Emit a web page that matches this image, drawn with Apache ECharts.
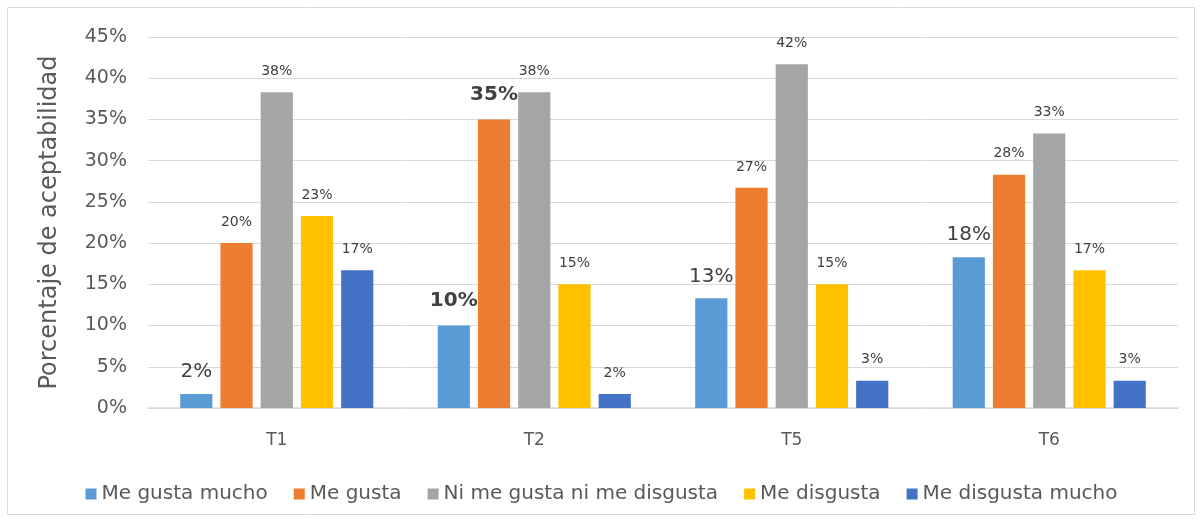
<!DOCTYPE html>
<html><head><meta charset="utf-8">
<script src="https://cdn.jsdelivr.net/npm/echarts@6/dist/echarts.min.js"></script>
<style>html,body{margin:0;padding:0;background:#fff}#c{width:1203px;height:521px}</style>
</head><body><div id="c"></div>
<script>
const categories = ['T1', 'T2', 'T5', 'T6'];
const seriesNames = ['Me gusta mucho', 'Me gusta', 'Ni me gusta ni me disgusta', 'Me disgusta', 'Me disgusta mucho'];
const meGustaMucho = [1.7, 10.0, 13.3, 18.3];
const meGusta = [20.0, 35.0, 26.7, 28.3];
const niNi = [38.3, 38.3, 41.7, 33.3];
const meDisgusta = [23.3, 15.0, 15.0, 16.7];
const meDisgustaMucho = [16.7, 1.7, 3.3, 3.3];
const yTicks = [0, 5, 10, 15, 20, 25, 30, 35, 40, 45];
const colors = ['#5b9bd5', '#ed7d31', '#a5a5a5', '#ffc000', '#4472c4'];
// emphasized labels: [seriesIndex, categoryIndex, bold]
const bigLabels = [[0, 0, false], [0, 1, true], [1, 1, true], [0, 2, false], [0, 3, false]];

const FONT = 'DejaVu Sans';
const values = [meGustaMucho, meGusta, niNi, meDisgusta, meDisgustaMucho];

function buildData(si) {
  return values[si].map((v, ci) => {
    const b = bigLabels.find(x => x[0] === si && x[1] === ci);
    if (!b) return v;
    return { value: v, label: { fontSize: 20, fontWeight: b[2] ? 'bold' : 'normal', color: '#404040', distance: b[2] ? 15 : 12 } };
  });
}

const chart = echarts.init(document.getElementById('c'));
chart.setOption({
  animation: false,
  textStyle: { fontFamily: FONT },
  graphic: [{ type: 'rect', shape: { x: 7.5, y: 7.5, width: 1187, height: 507 }, style: { fill: 'none', stroke: '#d9d9d9', lineWidth: 1 } }],
  grid: { left: 148, right: 25, top: 37, bottom: 113 },
  legend: {
    top: 479, left: 'center', itemWidth: 11, itemHeight: 11, itemGap: 26, icon: 'rect',
    textStyle: { fontFamily: FONT, fontSize: 20, color: '#595959' },
    data: seriesNames
  },
  xAxis: {
    type: 'category', data: categories,
    axisLine: { lineStyle: { color: '#d9d9d9', width: 1.5 } },
    axisTick: { show: false },
    axisLabel: { color: '#595959', fontSize: 17, margin: 24, fontFamily: FONT }
  },
  yAxis: {
    type: 'value', min: 0, max: 45, interval: 5,
    name: 'Porcentaje de aceptabilidad', nameLocation: 'middle', nameGap: 86,
    nameTextStyle: { fontSize: 24, color: '#595959', fontFamily: FONT },
    axisLine: { show: false }, axisTick: { show: false },
    splitLine: { lineStyle: { color: '#d9d9d9', width: 1 } },
    axisLabel: { color: '#595959', fontSize: 19, margin: 21, fontFamily: FONT, formatter: v => yTicks.includes(v) ? v + '%' : '' }
  },
  series: seriesNames.map((n, si) => ({
    name: n, type: 'bar', data: buildData(si),
    itemStyle: { color: colors[si] },
    barGap: '25%', barCategoryGap: '25%',
    label: { show: true, position: 'top', distance: 14, color: '#404040', fontSize: 14, fontFamily: FONT,
      formatter: p => Math.round(p.value) + '%' }
  }))
});
</script></body></html>
